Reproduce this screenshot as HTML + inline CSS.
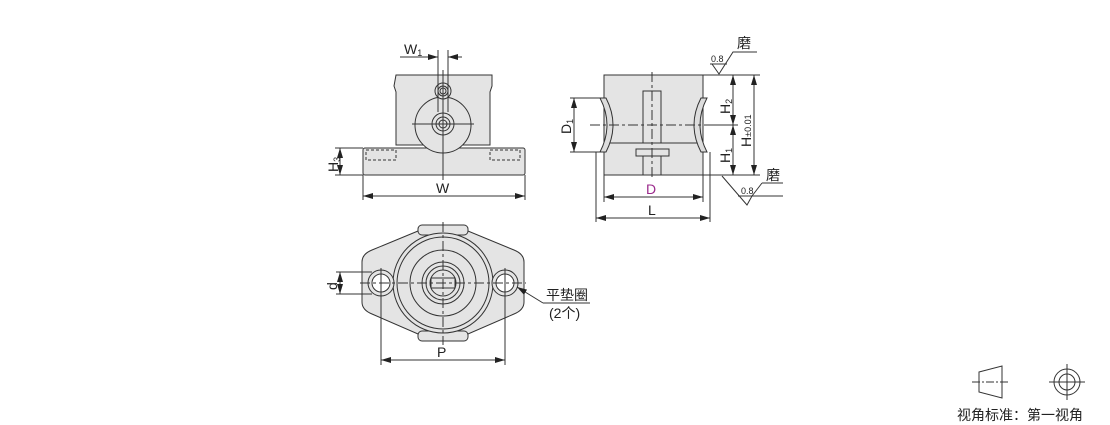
<!DOCTYPE html>
<html><head><meta charset="utf-8"><style>
html,body{margin:0;padding:0;background:#fff;width:1110px;height:425px;overflow:hidden}
svg{display:block}
text{font-family:"Liberation Sans","Noto Sans CJK SC",sans-serif;fill:#222}
</style></head><body>
<svg width="1110" height="425" viewBox="0 0 1110 425" xmlns="http://www.w3.org/2000/svg">
<defs>
<marker id="a" markerWidth="10" markerHeight="6" refX="10" refY="3" orient="auto-start-reverse" markerUnits="userSpaceOnUse"><path d="M0,0 L10,3 L0,6 z" fill="#222"/></marker>
</defs>
<g stroke="#333" stroke-width="1" fill="none">
<!-- FRONT VIEW -->
<rect x="363" y="148" width="162" height="27" fill="#e4e4e4" rx="2"/>
<path d="M396,75 H492 V86 L490,92 V145 H396 V92 L394,86 Z" fill="#e4e4e4"/>
<circle cx="443" cy="125" r="28" fill="#e4e4e4"/>
<circle cx="443" cy="91" r="8" fill="#e4e4e4"/><circle cx="443" cy="91" r="5"/><circle cx="443" cy="91" r="3"/>
<circle cx="443" cy="124" r="11" fill="#e4e4e4"/><circle cx="443" cy="124" r="7"/><circle cx="443" cy="124" r="4"/>
<g stroke-dasharray="3,2"><rect x="366" y="150" width="30" height="10"/><rect x="490" y="150" width="30" height="10"/></g>
<line x1="443" y1="70" x2="443" y2="180"/><line x1="412" y1="124" x2="474" y2="124"/>
<line x1="438" y1="50" x2="438" y2="112"/><line x1="448" y1="50" x2="448" y2="112"/>
<line x1="400" y1="57" x2="438" y2="57" marker-end="url(#a)"/><line x1="462" y1="57" x2="448" y2="57" marker-end="url(#a)"/>
<line x1="363" y1="175" x2="363" y2="200"/><line x1="525" y1="175" x2="525" y2="200"/>
<line x1="363" y1="196" x2="525" y2="196" marker-start="url(#a)" marker-end="url(#a)"/>
<line x1="335" y1="148" x2="363" y2="148"/><line x1="335" y1="175" x2="363" y2="175"/>
<line x1="340" y1="148" x2="340" y2="175" marker-start="url(#a)" marker-end="url(#a)"/>
<!-- SIDE VIEW -->
<rect x="604" y="75" width="99" height="100" fill="#e4e4e4"/>
<line x1="604" y1="143" x2="703" y2="143"/>
<path d="M600,98 Q614,125 600,152 L606,152 Q620,125 606,98 Z" fill="#ddd"/>
<path d="M707,98 Q693,125 707,152 L701,152 Q687,125 701,98 Z" fill="#ddd"/>
<rect x="643" y="91" width="18" height="52" fill="#e4e4e4"/>
<rect x="636" y="149" width="33" height="7" fill="#e4e4e4"/>
<line x1="643" y1="156" x2="643" y2="175"/><line x1="661" y1="156" x2="661" y2="175"/>
<line x1="590" y1="125" x2="720" y2="125" stroke-dasharray="10,3,3,3"/>
<line x1="652" y1="72" x2="652" y2="178" stroke-dasharray="10,3,3,3"/>
<line x1="570" y1="98" x2="604" y2="98"/><line x1="570" y1="152" x2="604" y2="152"/>
<line x1="574" y1="98" x2="574" y2="152" marker-start="url(#a)" marker-end="url(#a)"/>
<line x1="604" y1="175" x2="604" y2="202"/><line x1="703" y1="175" x2="703" y2="202"/>
<line x1="604" y1="197" x2="703" y2="197" marker-start="url(#a)" marker-end="url(#a)"/>
<line x1="596" y1="152" x2="596" y2="222"/><line x1="710" y1="152" x2="710" y2="222"/>
<line x1="596" y1="218" x2="710" y2="218" marker-start="url(#a)" marker-end="url(#a)"/>
<line x1="703" y1="75" x2="760" y2="75"/><line x1="703" y1="175" x2="760" y2="175"/><line x1="712" y1="125" x2="738" y2="125"/>
<line x1="733" y1="75" x2="733" y2="125" marker-start="url(#a)" marker-end="url(#a)"/>
<line x1="733" y1="125" x2="733" y2="175" marker-start="url(#a)" marker-end="url(#a)"/>
<line x1="754" y1="75" x2="754" y2="175" marker-start="url(#a)" marker-end="url(#a)"/>
<path d="M712,64 L719,74 L733,52 H757"/><line x1="710" y1="64" x2="727" y2="64"/>
<path d="M722,176 L747,205 L752,196 M738,196 H783 M747,205 L752,196" /><path d="M762,183 H783"/><line x1="752" y1="196" x2="762" y2="183"/>
<!-- BOTTOM VIEW -->
<path d="M418,231 L372,250 Q362,254 362,262 V302 Q362,310 372,314 L418,334 H468 L514,314 Q524,310 524,302 V262 Q524,254 514,250 L468,231 Z" fill="#e4e4e4"/>
<rect x="418" y="225" width="50" height="10" rx="4" fill="#e4e4e4"/><rect x="418" y="331" width="50" height="10" rx="4" fill="#e4e4e4"/>
<circle cx="443" cy="283" r="50" fill="#e4e4e4"/><circle cx="443" cy="283" r="46"/><circle cx="443" cy="283" r="33"/>
<circle cx="443" cy="283" r="21"/><circle cx="443" cy="283" r="17"/><circle cx="443" cy="283" r="13"/>
<rect x="431" y="278" width="24" height="10"/>
<circle cx="381" cy="283" r="13" fill="#e4e4e4"/><circle cx="381" cy="283" r="9" fill="#fff"/>
<circle cx="505" cy="283" r="13" fill="#e4e4e4"/><circle cx="505" cy="283" r="9" fill="#fff"/>
<line x1="360" y1="283" x2="526" y2="283" stroke-dasharray="10,3,3,3"/>
<line x1="443" y1="222" x2="443" y2="345" stroke-dasharray="10,3,3,3"/>
<line x1="381" y1="268" x2="381" y2="365"/><line x1="505" y1="268" x2="505" y2="365"/>
<line x1="381" y1="360" x2="505" y2="360" marker-start="url(#a)" marker-end="url(#a)"/>
<line x1="336" y1="272" x2="372" y2="272"/><line x1="336" y1="294" x2="372" y2="294"/>
<line x1="340" y1="272" x2="340" y2="294" marker-start="url(#a)" marker-end="url(#a)"/>
<line x1="543" y1="303" x2="517" y2="287" marker-end="url(#a)"/><line x1="543" y1="303" x2="590" y2="303"/>
<!-- LEGEND -->
<path d="M979,372 L1002,366 V398 L979,392 Z"/><line x1="972" y1="382" x2="1010" y2="382" stroke-dasharray="8,2,2,2"/>
<circle cx="1067" cy="382" r="13"/><circle cx="1067" cy="382" r="8"/>
<line x1="1049" y1="382" x2="1085" y2="382"/><line x1="1067" y1="364" x2="1067" y2="400"/>
</g>
<g font-size="14">
<text x="404" y="54">W<tspan font-size="9" dy="2">1</tspan></text>
<text x="436" y="193">W</text>
<text x="0" y="0" transform="translate(338,172) rotate(-90)">H<tspan font-size="9" dy="2">3</tspan></text>
<text x="0" y="0" transform="translate(571,134) rotate(-90)">D<tspan font-size="9" dy="2">1</tspan></text>
<text x="646" y="194" style="fill:#9b2a8c">D</text>
<text x="648" y="215">L</text>
<text x="0" y="0" transform="translate(730,114) rotate(-90)">H<tspan font-size="9" dy="2">2</tspan></text>
<text x="0" y="0" transform="translate(730,163) rotate(-90)">H<tspan font-size="9" dy="2">1</tspan></text>
<text x="0" y="0" transform="translate(751,147) rotate(-90)">H<tspan font-size="9">±0.01</tspan></text>
<text x="737" y="48">磨</text><text x="766" y="180">磨</text>
<text x="711" y="62" font-size="9">0.8</text><text x="741" y="194" font-size="9">0.8</text>
<text x="0" y="0" transform="translate(337,290) rotate(-90)">d</text>
<text x="437" y="357">P</text>
<text x="546" y="300">平垫圈</text><text x="549" y="318">(2个)</text>
<text x="957" y="420">视角标准：第一视角</text>
</g>
</svg>
</body></html>
